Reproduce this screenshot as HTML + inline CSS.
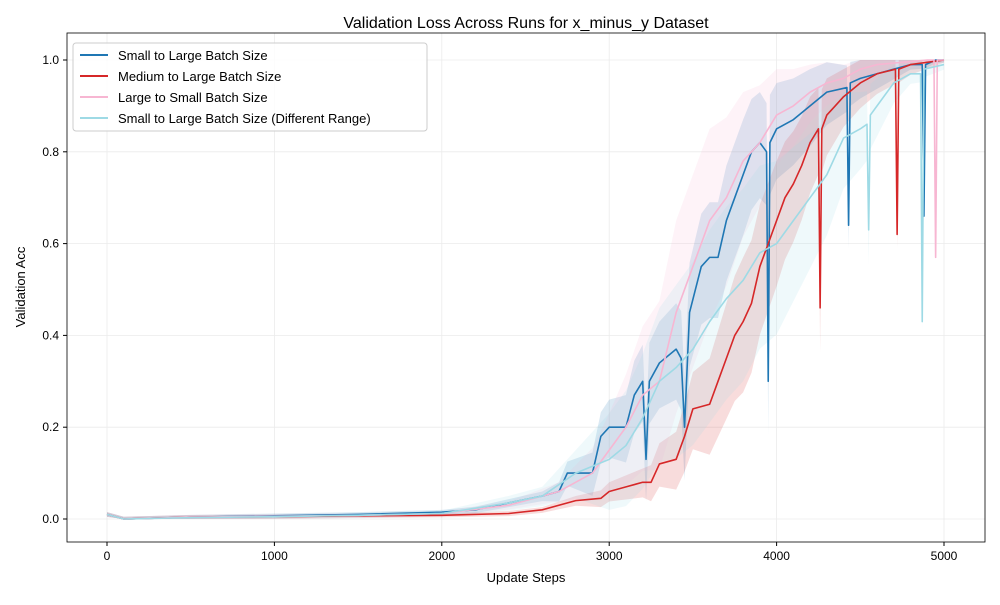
<!DOCTYPE html>
<html><head><meta charset="utf-8"><style>
body{margin:0;background:#fff;font-family:"Liberation Sans","DejaVu Sans",sans-serif}
</style></head><body>
<svg id="chart" width="1000" height="600" xmlns="http://www.w3.org/2000/svg"></svg>
<script>
// ---- data ----
const xTicks=[0,1000,2000,3000,4000,5000];
const yTicks=[0.0,0.2,0.4,0.6,0.8,1.0];
const seriesNames=["Small to Large Batch Size","Medium to Large Batch Size","Large to Small Batch Size","Small to Large Batch Size (Different Range)"];
const colors=["#1f77b4","#d62728","#f7b6d2","#9edae5"];
const blueX=[0,100,500,1000,1500,2000,2200,2400,2600,2700,2750,2900,2950,3000,3100,3150,3200,3220,3240,3300,3400,3430,3450,3480,3550,3600,3650,3700,3750,3800,3850,3900,3940,3950,3960,4000,4100,4200,4300,4420,4430,4440,4500,4600,4700,4800,4870,4880,4890,4950,5000];
const blueY=[0.01,0.0,0.004,0.007,0.01,0.015,0.02,0.035,0.05,0.06,0.1,0.1,0.18,0.2,0.2,0.27,0.3,0.13,0.3,0.34,0.37,0.35,0.2,0.45,0.55,0.57,0.57,0.65,0.7,0.75,0.8,0.82,0.8,0.3,0.82,0.85,0.87,0.9,0.93,0.94,0.64,0.95,0.96,0.97,0.98,0.99,0.99,0.66,0.99,1.0,1.0];
const redX=[0,100,500,1000,1500,2000,2400,2600,2800,2950,3000,3100,3200,3250,3300,3400,3450,3500,3600,3650,3700,3750,3800,3850,3900,3950,4000,4050,4100,4150,4200,4250,4260,4270,4300,4350,4400,4500,4600,4710,4720,4730,4800,5000];
const redY=[0.01,0.0,0.004,0.005,0.007,0.008,0.012,0.02,0.04,0.045,0.06,0.07,0.08,0.08,0.12,0.13,0.18,0.24,0.25,0.3,0.35,0.4,0.43,0.47,0.55,0.6,0.65,0.7,0.73,0.77,0.82,0.85,0.46,0.85,0.88,0.9,0.92,0.95,0.97,0.98,0.62,0.98,0.99,1.0];
const pinkX=[0,100,500,1000,1500,2000,2400,2700,2900,3000,3100,3200,3300,3400,3500,3600,3700,3800,3900,4000,4100,4200,4300,4400,4500,4600,4900,4940,4950,4960,5000];
const pinkY=[0.01,0.0,0.004,0.006,0.008,0.012,0.03,0.06,0.1,0.15,0.2,0.27,0.3,0.45,0.55,0.65,0.7,0.78,0.82,0.88,0.9,0.93,0.95,0.96,0.98,0.99,1.0,1.0,0.57,1.0,1.0];
const lbX=[0,100,500,1000,1500,2000,2400,2600,2800,3000,3100,3200,3300,3400,3500,3600,3700,3800,3900,4000,4100,4200,4300,4400,4500,4540,4550,4560,4600,4700,4800,4860,4870,4880,5000];
const lbY=[0.01,0.0,0.003,0.005,0.008,0.012,0.035,0.05,0.1,0.13,0.16,0.22,0.3,0.33,0.37,0.43,0.48,0.52,0.58,0.6,0.65,0.7,0.75,0.83,0.85,0.86,0.63,0.88,0.9,0.95,0.97,0.97,0.43,0.98,0.99];
const bandSteps=[0,2000,2600,2800,3000,3200,3400,3600,3800,4000,4200,4400,4600,4800,5000];
const blueBand=[0.005,0.005,0.01,0.03,0.06,0.08,0.1,0.12,0.12,0.1,0.08,0.05,0.03,0.01,0.005];
const redBand=[0.005,0.004,0.006,0.01,0.02,0.03,0.06,0.1,0.14,0.13,0.1,0.06,0.04,0.02,0.005];
const pinkBand=[0.005,0.005,0.01,0.03,0.08,0.15,0.2,0.2,0.15,0.1,0.06,0.03,0.02,0.01,0.005];
const lbBand=[0.005,0.006,0.02,0.05,0.1,0.14,0.18,0.2,0.2,0.18,0.14,0.1,0.06,0.02,0.01];
// ---- layout ----
const L=67,R=985,T=33,B=542;
const xs=v=>107+(v/5000)*(944-107);
const ys=v=>519-v*459;
const svg=document.getElementById('chart');
const NS="http://www.w3.org/2000/svg";
function mk(tag,attrs,parent){const e=document.createElementNS(NS,tag);for(const k in attrs)e.setAttribute(k,attrs[k]);(parent||svg).appendChild(e);return e;}
function interp(xa,ya,x){for(let i=1;i<xa.length;i++){if(x<=xa[i]){const t=(x-xa[i-1])/(xa[i]-xa[i-1]);return ya[i-1]+t*(ya[i]-ya[i-1]);}}return ya[ya.length-1];}
xTicks.forEach(t=>{const g=mk('line',{x1:xs(t),x2:xs(t),y1:T,y2:B,stroke:'#ebebeb','stroke-width':0.8});

});
yTicks.forEach(t=>{const g=mk('line',{x1:L,x2:R,y1:ys(t),y2:ys(t),stroke:'#ebebeb','stroke-width':0.8});

});
const allX=[blueX,redX,pinkX,lbX],allY=[blueY,redY,pinkY,lbY],bands=[blueBand,redBand,pinkBand,lbBand];
const bandNames=['band-small-to-large','band-medium-to-large','band-large-to-small','band-small-to-large-different'];
for(let s=0;s<4;s++){
  let up=[],lo=[];
  allX[s].forEach((x,i)=>{const w=interp(bandSteps,bands[s],x);const y=allY[s][i];up.push(xs(x)+','+ys(Math.min(1,y+w)));lo.unshift(xs(x)+','+ys(Math.max(0,y-w*1.1)));});
  const p=mk('polygon',{points:up.concat(lo).join(' '),fill:colors[s],'fill-opacity':0.16,stroke:'none'});
  
  
}
const lineNames=['line-small-to-large','line-medium-to-large','line-large-to-small','line-small-to-large-different'];
for(let s=0;s<4;s++){
  const pts=allX[s].map((x,i)=>xs(x)+','+ys(allY[s][i])).join(' ');
  const p=mk('polyline',{points:pts,fill:'none',stroke:colors[s],'stroke-width':1.6,'stroke-linejoin':'round'});
  
  
}
const fr=mk('rect',{x:L,y:T,width:R-L,height:B-T,fill:'none',stroke:'#000','stroke-width':0.8});


xTicks.forEach(t=>{mk('line',{x1:xs(t),x2:xs(t),y1:B,y2:B+4,stroke:'#000'});
const tx=mk('text',{x:xs(t),y:B+18,'text-anchor':'middle','font-size':12,fill:'#000'});tx.textContent=t;

});
yTicks.forEach(t=>{mk('line',{x1:L-4,x2:L,y1:ys(t),y2:ys(t),stroke:'#000'});
const tx=mk('text',{x:L-8,y:ys(t)+4,'text-anchor':'end','font-size':12,fill:'#000'});tx.textContent=t.toFixed(1);

});
const tt=mk('text',{x:526,y:28,'text-anchor':'middle','font-size':16});tt.textContent='Validation Loss Across Runs for x_minus_y Dataset';


const xl=mk('text',{x:526,y:582,'text-anchor':'middle','font-size':13});xl.textContent='Update Steps';


const yl=mk('text',{x:25,y:287,'text-anchor':'middle','font-size':13,transform:'rotate(-90 25 287)'});yl.textContent='Validation Acc';


const lg=mk('rect',{x:73,y:43,width:354,height:88,rx:3,fill:'#fff','fill-opacity':0.8,stroke:'#ccc'});


seriesNames.forEach((n,i)=>{const y=55+i*21;
mk('line',{x1:80,x2:108,y1:y,y2:y,stroke:colors[i],'stroke-width':2});
const t=mk('text',{x:118,y:y+5,'font-size':13});t.textContent=n;

});
</script>
</body></html>
